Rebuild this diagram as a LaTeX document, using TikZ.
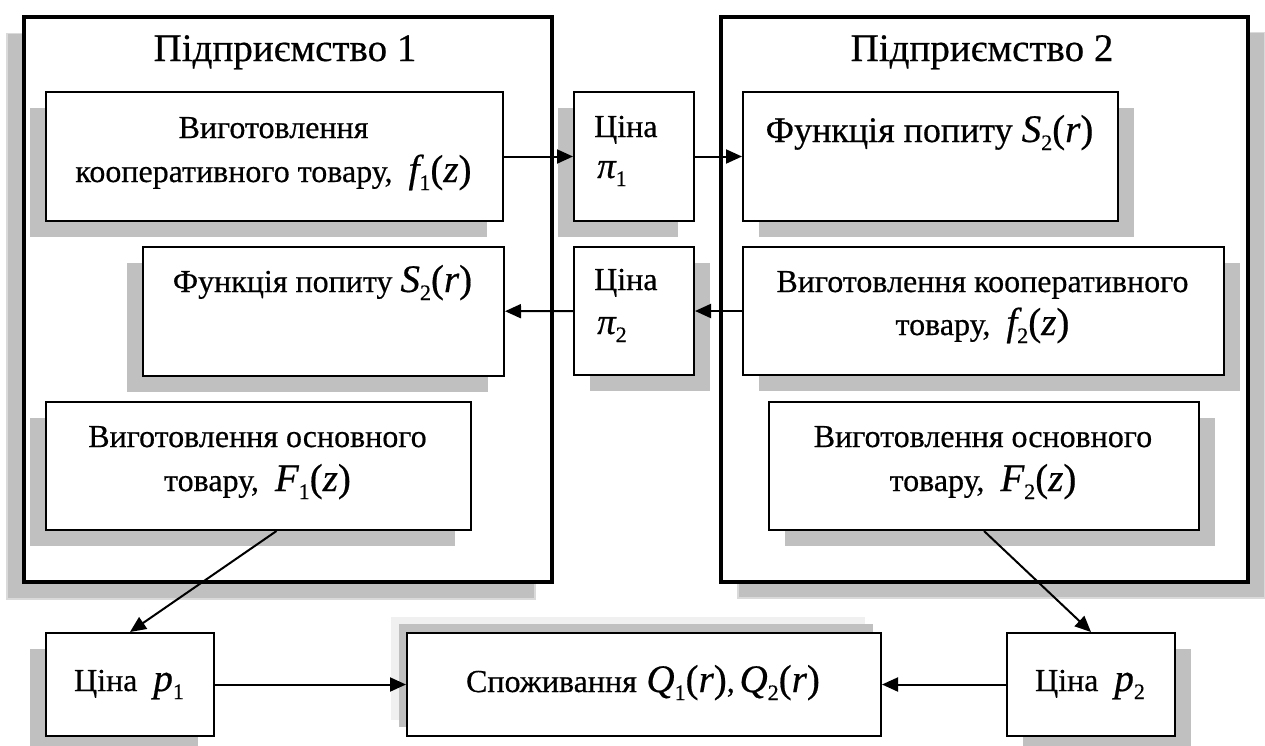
\documentclass[tikz,border=0pt]{standalone}
\usepackage{fontspec}
\setmainfont{Liberation Serif}[FakeBold=0.5]
\usetikzlibrary{shadows,arrows.meta,calc}
\definecolor{shd}{HTML}{C0C0C0}
\definecolor{shdedge}{HTML}{DADADA}
\definecolor{halo}{HTML}{F0F0F0}
% math-like pieces (MathType style: larger italic letters, lowered subscripts)
\newcommand\mth[1]{{\fontsize{39}{39}\selectfont #1}}
\newcommand\mv[1]{{\fontsize{39}{39}\selectfont\itshape #1}}
\newcommand\mpi[1]{{\fontsize{37}{37}\selectfont\itshape #1}}
\newcommand\ssub[1]{\raisebox{-8pt}{\fontsize{22}{22}\selectfont #1}}
\begin{document}
\begin{tikzpicture}[x=1pt,y=-1pt,
  big/.style={draw=black, line width=4pt, fill=white, anchor=north west, inner sep=0pt},
  box/.style={draw=black, line width=2pt, fill=white, anchor=north west, inner sep=0pt},
  bigshL/.style={drop shadow={shadow xshift=-17pt, shadow yshift=-17pt, opacity=1, fill=shd, draw=shdedge, line width=1.5pt}},
  bigshR/.style={drop shadow={shadow xshift=17pt, shadow yshift=-16pt, opacity=1, fill=shd, draw=shdedge, line width=1.5pt}},
  shL/.style={drop shadow={shadow xshift=-16pt, shadow yshift=-16pt, opacity=1, fill=shd}},
  shR/.style={drop shadow={shadow xshift=16pt, shadow yshift=-16pt, opacity=1, fill=shd}},
  shUL/.style={drop shadow={shadow xshift=-16pt, shadow yshift=16pt, opacity=1, fill=halo},
               drop shadow={shadow xshift=-8pt, shadow yshift=9pt, opacity=1, fill=shd}},
  txt/.style={font=\fontsize{32}{37}\selectfont, inner sep=0pt, anchor=base},
  txtw/.style={font=\fontsize{32}{37}\selectfont, inner sep=0pt, anchor=base west},
  ttl/.style={font=\fontsize{39}{44}\selectfont, inner sep=0pt, anchor=base},
  arr/.style={-{Triangle[length=16pt,width=14pt]}, line width=2pt},
]
\useasboundingbox (0,0) rectangle (1265,745);
\fill[white] (0,0) rectangle (1265,745);

% enterprises
\node[big, bigshL, minimum width=528pt, minimum height=565.5pt] (E1) at (22,14.5) {};
\node[big, bigshR, minimum width=527pt, minimum height=565.5pt] (E2) at (719,14.5) {};
\node[ttl] (T1) at (285,61) {Підприємство 1};
\node[ttl] (T2) at (982,61) {Підприємство 2};

% inner boxes
\node[box, shL, minimum width=457pt, minimum height=129pt] (A) at (45,91) {};
\node[box, shL, minimum width=120pt, minimum height=129pt] (P1) at (573,91) {};
\node[box, shR, minimum width=375pt, minimum height=129pt] (B) at (742,91) {};
\node[box, shL, minimum width=361pt, minimum height=129pt] (C) at (142,246) {};
\node[box, shR, minimum width=120pt, minimum height=128pt] (P2) at (573,246) {};
\node[box, shR, minimum width=481pt, minimum height=128pt] (D) at (742,246) {};
\node[box, shL, minimum width=425pt, minimum height=128pt] (E) at (45,401) {};
\node[box, shR, minimum width=430pt, minimum height=128pt] (F) at (768,401) {};
\node[box, shL, minimum width=168pt, minimum height=103pt] (G) at (45,632) {};
\node[box, shUL, minimum width=474pt, minimum height=103pt] (H) at (406,632) {};
\node[box, shR, minimum width=168pt, minimum height=103pt] (I) at (1006,632) {};

% texts
\node[txt] (tA1) at (273.5,138) {Виготовлення};
\node[txt] (tA2) at (273.5,182) {кооперативного товару,\hspace{0.5em}\mv{f}\ssub{1}\mth{(}\mv{z}\mth{)}};
\node[txtw] (tP1a) at (594,137) {Ціна};
\node[txtw] (tP1b) at (597,178) {\mpi{π}\ssub{1}};
\node[txt, font=\fontsize{36}{40}\selectfont] (tB) at (929.5,142) {Функція попиту \mv{S}\ssub{2}\mth{(}\mv{r}\mth{)}};
\node[txt] (tC) at (322.5,292) {Функція попиту \mv{S}\ssub{2}\mth{(}\mv{r}\mth{)}};
\node[txtw] (tP2a) at (594,290) {Ціна};
\node[txtw] (tP2b) at (597,334) {\mpi{π}\ssub{2}};
\node[txt] (tD1) at (982.5,292) {Виготовлення кооперативного};
\node[txt] (tD2) at (982.5,335) {товару,\hspace{0.5em}\mv{f}\ssub{2}\mth{(}\mv{z}\mth{)}};
\node[txt] (tE1) at (257.5,447) {Виготовлення основного};
\node[txt] (tE2) at (257.5,491) {товару,\hspace{0.5em}\mv{F}\ssub{1}\mth{(}\mv{z}\mth{)}};
\node[txt] (tF1) at (983,447) {Виготовлення основного};
\node[txt] (tF2) at (983,491) {товару,\hspace{0.5em}\mv{F}\ssub{2}\mth{(}\mv{z}\mth{)}};
\node[txt] (tG) at (129,691) {Ціна\hspace{0.5em}\mv{p}\ssub{1}};
\node[txt] (tH) at (643,692) {Споживання\hspace{0.3em}\mv{Q}\ssub{1}\mth{(}\mv{r}\mth{)},\hspace{0.15em}\mv{Q}\ssub{2}\mth{(}\mv{r}\mth{)}};
\node[txt] (tI) at (1090,691) {Ціна\hspace{0.5em}\mv{p}\ssub{2}};

% connectors
\draw[arr] (A) -- (P1);
\draw[arr] (P1) -- (B);
\draw[arr] (D) -- (P2);
\draw[arr] (P2) -- (C);
\draw[arr] ([xshift=18pt]E.south) -- (G.north);
\draw[arr] (F.south) -- (I.north);
\draw[arr] (G) -- (H);
\draw[arr] (I) -- (H);
\end{tikzpicture}
\end{document}
